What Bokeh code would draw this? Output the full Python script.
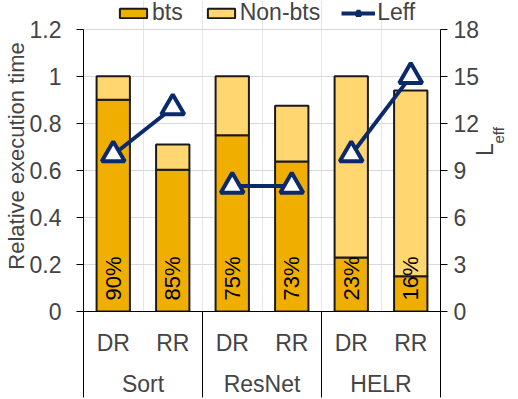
from math import pi
from bokeh.plotting import figure
from bokeh.models import (Range1d, LinearAxis, FixedTicker, Legend, LegendItem,
                          Grid)
from bokeh.core.properties import value
from bokeh.embed import file_html
from bokeh.resources import INLINE

# ---- data ----
groups = ["Sort", "ResNet", "HELR"]
modes = ["DR", "RR", "DR", "RR", "DR", "RR"]
bts = [0.90, 0.603, 0.75, 0.638, 0.23, 0.15]
total = [1.0, 0.71, 1.0, 0.875, 1.0, 0.94]
pct_labels = ["90%", "85%", "75%", "73%", "23%", "16%"]
leff = [10, 13, 8, 8, 10, 15]
y_ticks = [0, 0.2, 0.4, 0.6, 0.8, 1, 1.2]
y_tick_labels = ["0", "0.2", "0.4", "0.6", "0.8", "1", "1.2"]
leff_ticks = [0, 3, 6, 9, 12, 15, 18]

FONT = "Liberation Sans"
C_BTS = "#F0AE00"
C_NON = "#FFD66F"
C_LINE = "#0B2A6B"
NB = "\u00a0"

n = len(bts)
xs = [i + 0.5 for i in range(n)]
nonbts_top = total
per_group = n // len(groups)
group_centers = [g * per_group + per_group / 2 for g in range(len(groups))]
group_edges = [g * per_group for g in range(len(groups) + 1)]

SEP = 86            # length of the group separator lines below the axis
PLOT_H = 313        # frame height (legend lives in the frame's top strip)
AXIS_H = 284        # height of the drawn axes
Y_MAX, R_MAX = y_ticks[-1], leff_ticks[-1]

p = figure(width=518, height=399, output_backend="svg", toolbar_location=None,
           x_range=Range1d(0, n), y_range=Range1d(0, Y_MAX * PLOT_H / AXIS_H),
           x_axis_location=None, y_axis_location=None,
           min_border_left=77, min_border_right=70, min_border_top=0,
           min_border_bottom=86)
p.outline_line_color = None
p.extra_y_ranges = {"leff": Range1d(0, R_MAX * PLOT_H / AXIS_H)}

# grid
p.add_layout(Grid(dimension=1, ticker=FixedTicker(ticks=y_ticks),
                  grid_line_color="#D9D9D9", grid_line_width=1))

# bars
r_bts = p.vbar(x=xs, bottom=0, top=bts, width=0.56, fill_color=C_BTS,
               line_color="#1a1a1a", line_width=2)
r_non = p.vbar(x=xs, bottom=bts, top=nonbts_top, width=0.56, fill_color=C_NON,
               line_color="#1a1a1a", line_width=2)

# percent labels
p.text(x=xs, y=[0] * n, text=pct_labels, angle=pi / 2, text_align="left",
       text_baseline="middle", y_offset=-11, text_font=value(FONT),
       text_font_size="22px", text_color="black")

# Leff line (broken per group) and markers
gx = [xs[g * per_group:(g + 1) * per_group] for g in range(len(groups))]
gy = [leff[g * per_group:(g + 1) * per_group] for g in range(len(groups))]
r_line = p.multi_line(xs=gx, ys=gy, line_color=C_LINE, line_width=4,
                      y_range_name="leff")
r_mark = p.scatter(x=xs, y=leff, marker="triangle", size=23, fill_color="white",
                   line_color=C_LINE, line_width=4, y_range_name="leff")

# left axis
yaxis = LinearAxis(ticker=FixedTicker(ticks=y_ticks), bounds=(0, Y_MAX),
                   major_label_overrides=dict(zip(y_ticks, y_tick_labels)),
                   axis_label="Relative execution time",
                   axis_label_text_font=FONT, axis_label_text_font_size="22px",
                   axis_label_text_font_style="normal", axis_label_standoff=-2,
                   major_label_text_font=FONT, major_label_text_font_size="23px",
                   major_label_standoff=15, major_tick_out=7, major_tick_in=0,
                   axis_line_color="black", major_tick_line_color="black")
p.add_layout(yaxis, "left")

# right axis with "L" label, then a label-only axis for the "eff" subscript
raxis = LinearAxis(y_range_name="leff", bounds=(0, R_MAX),
                   ticker=FixedTicker(ticks=leff_ticks),
                   major_label_text_font=FONT, major_label_text_font_size="23px",
                   major_label_standoff=6, major_tick_out=7, major_tick_in=0,
                   axis_line_color="black", major_tick_line_color="black",
                   axis_label="L" + NB * 2, axis_label_orientation=pi / 2,
                   axis_label_text_font=FONT, axis_label_text_font_size="23px",
                   axis_label_text_font_style="normal", axis_label_standoff=3)
p.add_layout(raxis, "right")

raxis2 = LinearAxis(y_range_name="leff", bounds=(0, R_MAX),
                    ticker=FixedTicker(ticks=[]), major_label_standoff=0,
                    major_tick_out=0, major_tick_in=0, axis_line_color=None,
                    axis_label=NB * 3 + "eff", axis_label_orientation=pi / 2,
                    axis_label_text_font=FONT, axis_label_text_font_size="15px",
                    axis_label_text_font_style="normal", axis_label_standoff=-16)
p.add_layout(raxis2, "right")

# bottom axis: DR / RR, group separators drawn as long minor ticks
xaxis1 = LinearAxis(ticker=FixedTicker(ticks=xs, minor_ticks=group_edges),
                    major_label_overrides=dict(zip(xs, modes)),
                    major_label_text_font=FONT, major_label_text_font_size="23px",
                    major_label_standoff=18 - SEP, major_tick_out=0, major_tick_in=0,
                    major_tick_line_color=None, minor_tick_out=SEP, minor_tick_in=0,
                    minor_tick_line_color="black", minor_tick_line_width=1,
                    axis_line_color="black")
p.add_layout(xaxis1, "below")

xaxis2 = LinearAxis(ticker=FixedTicker(ticks=group_centers),
                    major_label_overrides=dict(zip(group_centers, groups)),
                    major_label_text_font=FONT, major_label_text_font_size="23px",
                    major_label_standoff=12, major_tick_out=0, major_tick_in=0,
                    major_tick_line_color=None, axis_line_color=None)
p.add_layout(xaxis2, "below")

# legend (inside the frame's top strip, above the 1.2 gridline);
# location = bottom-left corner, measured up from the frame bottom
legend = Legend(items=[LegendItem(label="bts", renderers=[r_bts]),
                       LegendItem(label="Non-bts", renderers=[r_non]),
                       LegendItem(label="Leff", renderers=[r_line, r_mark])],
                orientation="horizontal", location=(33, PLOT_H - 28),
                border_line_color=None, background_fill_alpha=0,
                label_text_font=FONT, label_text_font_size="23px",
                glyph_width=34, glyph_height=12, label_standoff=2, spacing=21,
                padding=0, margin=0)
p.add_layout(legend)

open("out.html", "w").write(file_html(p, INLINE))
